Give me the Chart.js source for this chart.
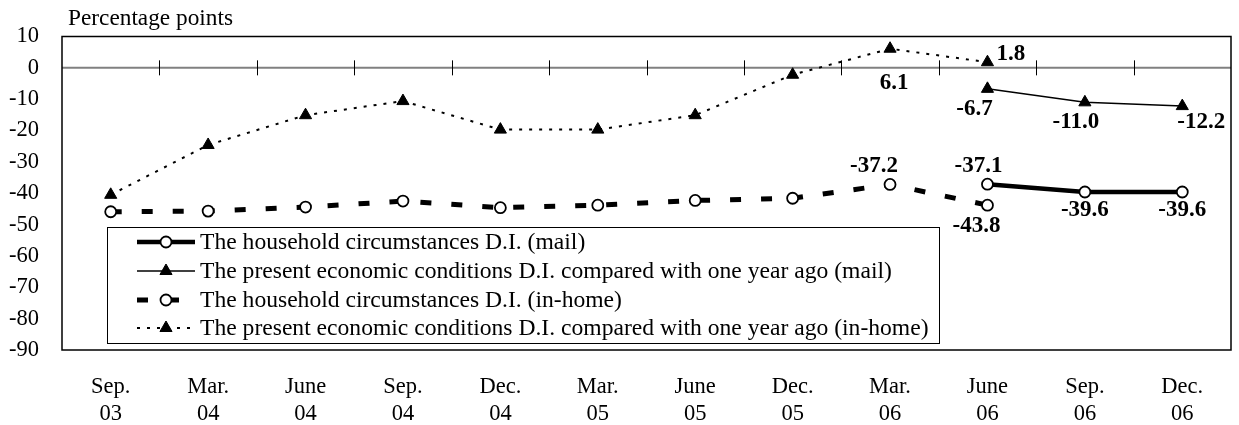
<!DOCTYPE html>
<html>
<head>
<meta charset="utf-8">
<script src="https://cdn.jsdelivr.net/npm/chart.js@4/dist/chart.umd.min.js"></script>
<style>
  html, body { margin: 0; padding: 0; background: #fff; }
  #wrap { width: 1239px; height: 425px; }
</style>
</head>
<body>
<div id="wrap"><canvas id="c" width="1239" height="425"></canvas></div>
<script>
// ---- data ----
const categories = [['Sep.','03'],['Mar.','04'],['June','04'],['Sep.','04'],['Dec.','04'],['Mar.','05'],
                    ['June','05'],['Dec.','05'],['Mar.','06'],['June','06'],['Sep.','06'],['Dec.','06']];
const householdMail   = [null,null,null,null,null,null,null,null,null,-37.1,-39.6,-39.6];
const economicMail    = [null,null,null,null,null,null,null,null,null,-6.7,-11.0,-12.2];
const householdInHome = [-45.9,-45.7,-44.4,-42.5,-44.6,-43.8,-42.3,-41.6,-37.2,-43.8,null,null];
const economicInHome  = [-40.5,-24.6,-15.1,-10.6,-19.7,-19.7,-15.1,-2.2,6.1,1.8,null,null];
const yTicks = [10,0,-10,-20,-30,-40,-50,-60,-70,-80,-90];
const seriesNames = [
  'The household circumstances D.I. (mail)',
  'The present economic conditions D.I. compared with one year ago (mail)',
  'The household circumstances D.I. (in-home)',
  'The present economic conditions D.I. compared with one year ago (in-home)'
];
const yTitle = 'Percentage points';

// label placements (dataset index, point index, offsets)
const valueLabels = [
  {ds:3, i:8, dx:4,  dy:34, align:'center'},
  {ds:3, i:9, dx:9,  dy:-8, align:'left'},
  {ds:1, i:9, dx:-13, dy:20, align:'center'},
  {ds:1, i:10, dx:-9, dy:20, align:'center'},
  {ds:1, i:11, dx:19, dy:16, align:'center'},
  {ds:2, i:8, dx:-16, dy:-18, align:'center'},
  {ds:0, i:9, dx:-9, dy:-18, align:'center'},
  {ds:0, i:10, dx:0, dy:18, align:'center'},
  {ds:0, i:11, dx:0, dy:18, align:'center'},
  {ds:2, i:9, dx:-11, dy:21, align:'center'}
];

const SERIF = '"Liberation Serif", "Times New Roman", serif';

const framePlugin = {
  id: 'frame',
  beforeDatasetsDraw(chart) {
    const {ctx, chartArea: a, scales} = chart;
    const y0 = scales.y.getPixelForValue(0);
    ctx.save();
    // zero line
    ctx.strokeStyle = '#808080';
    ctx.lineWidth = 2;
    ctx.beginPath(); ctx.moveTo(a.left, y0); ctx.lineTo(a.right, y0); ctx.stroke();
    // category boundary ticks on the zero line
    ctx.strokeStyle = '#000';
    ctx.lineWidth = 1;
    const n = categories.length;
    for (let k = 1; k < n; k++) {
      const x = Math.round((scales.x.getPixelForValue(k - 1) + scales.x.getPixelForValue(k)) / 2) + 0.5;
      ctx.beginPath(); ctx.moveTo(x, y0 - 7.5); ctx.lineTo(x, y0 + 7.5); ctx.stroke();
    }
    // plot border
    ctx.strokeStyle = '#000';
    ctx.lineWidth = 1.5;
    ctx.strokeRect(a.left, a.top, a.right - a.left, a.bottom - a.top);
    // y title
    ctx.fillStyle = '#000';
    ctx.font = '23.3px ' + SERIF;
    ctx.textAlign = 'left';
    ctx.textBaseline = 'middle';
    ctx.fillText(yTitle, 68, 19);
    ctx.restore();
  },
  afterDatasetsDraw(chart) {
    const {ctx} = chart;
    ctx.save();
    // value labels
    ctx.fillStyle = '#000';
    ctx.font = 'bold 23px ' + SERIF;
    ctx.textBaseline = 'middle';
    valueLabels.forEach(l => {
      const pt = chart.getDatasetMeta(l.ds).data[l.i];
      const v = chart.data.datasets[l.ds].data[l.i];
      ctx.textAlign = l.align;
      ctx.fillText(v.toFixed(1), pt.x + l.dx, pt.y + l.dy);
    });
    // legend box
    const bx = 107, by = 227, bw = 832, bh = 116;
    ctx.fillStyle = '#fff';
    ctx.fillRect(bx, by, bw, bh);
    ctx.strokeStyle = '#000';
    ctx.lineWidth = 1;
    ctx.strokeRect(bx + 0.5, by + 0.5, bw, bh);
    const rows = [242, 271, 300, 328];
    chart.data.datasets.forEach((ds, k) => {
      const y = rows[k];
      const x1 = 137, x2 = 195, xm = 166;
      ctx.save();
      ctx.strokeStyle = ds.borderColor;
      ctx.lineWidth = ds.borderWidth;
      ctx.setLineDash(ds.borderDash || []);
      ctx.beginPath(); ctx.moveTo(x1, y); ctx.lineTo(x2, y); ctx.stroke();
      ctx.restore();
      ctx.save();
      ctx.fillStyle = ds.pointBackgroundColor;
      ctx.strokeStyle = ds.pointBorderColor;
      ctx.lineWidth = ds.pointBorderWidth;
      Chart.helpers.drawPoint(ctx, {
        pointStyle: ds.pointStyle, radius: ds.pointRadius, rotation: 0,
        borderWidth: ds.pointBorderWidth
      }, xm, y);
      ctx.restore();
      ctx.fillStyle = '#000';
      ctx.font = '23.6px ' + SERIF;
      ctx.textAlign = 'left';
      ctx.textBaseline = 'middle';
      ctx.fillText(seriesNames[k], 200, y + 1);
    });
    ctx.restore();
  }
};

new Chart(document.getElementById('c'), {
  type: 'line',
  data: {
    labels: categories,
    datasets: [
      { label: seriesNames[0], data: householdMail, borderColor: '#000', borderWidth: 4.5,
        pointStyle: 'circle', pointRadius: 5.5, pointBackgroundColor: '#fff', pointBorderColor: '#000',
        pointBorderWidth: 1.8, tension: 0, spanGaps: false },
      { label: seriesNames[1], data: economicMail, borderColor: '#000', borderWidth: 1.5,
        pointStyle: 'triangle', pointRadius: 7, pointBackgroundColor: '#000', pointBorderColor: '#000',
        pointBorderWidth: 1, tension: 0 },
      { label: seriesNames[2], data: householdInHome, borderColor: '#000', borderWidth: 5,
        borderDash: [11, 20], borderCapStyle: 'butt',
        pointStyle: 'circle', pointRadius: 5.5, pointBackgroundColor: '#fff', pointBorderColor: '#000',
        pointBorderWidth: 1.8, tension: 0 },
      { label: seriesNames[3], data: economicInHome, borderColor: '#000', borderWidth: 2,
        borderDash: [3, 7], borderCapStyle: 'butt',
        pointStyle: 'triangle', pointRadius: 7, pointBackgroundColor: '#000', pointBorderColor: '#000',
        pointBorderWidth: 1, tension: 0 }
    ]
  },
  options: {
    responsive: false,
    animation: false,
    devicePixelRatio: 1,
    layout: { padding: { top: 34, right: 7, left: 0, bottom: 0 } },
    plugins: { legend: { display: false }, tooltip: { enabled: false } },
    scales: {
      x: {
        type: 'category',
        offset: true,
        grid: { display: false, drawTicks: false },
        border: { display: false },
        ticks: { color: '#000', font: { family: SERIF, size: 22.5, lineHeight: 1.22 },
                 padding: 23, maxRotation: 0, autoSkip: false },
        afterFit(s) { s.height = 75; }
      },
      y: {
        min: -90, max: 10,
        grid: { display: false, drawTicks: false },
        border: { display: false },
        afterBuildTicks(s) { s.ticks = yTicks.map(v => ({ value: v })); },
        ticks: { color: '#000', font: { family: SERIF, size: 22.5 }, padding: 23 },
        afterFit(s) { s.width = 62; }
      }
    }
  },
  plugins: [framePlugin]
});
</script>
</body>
</html>
